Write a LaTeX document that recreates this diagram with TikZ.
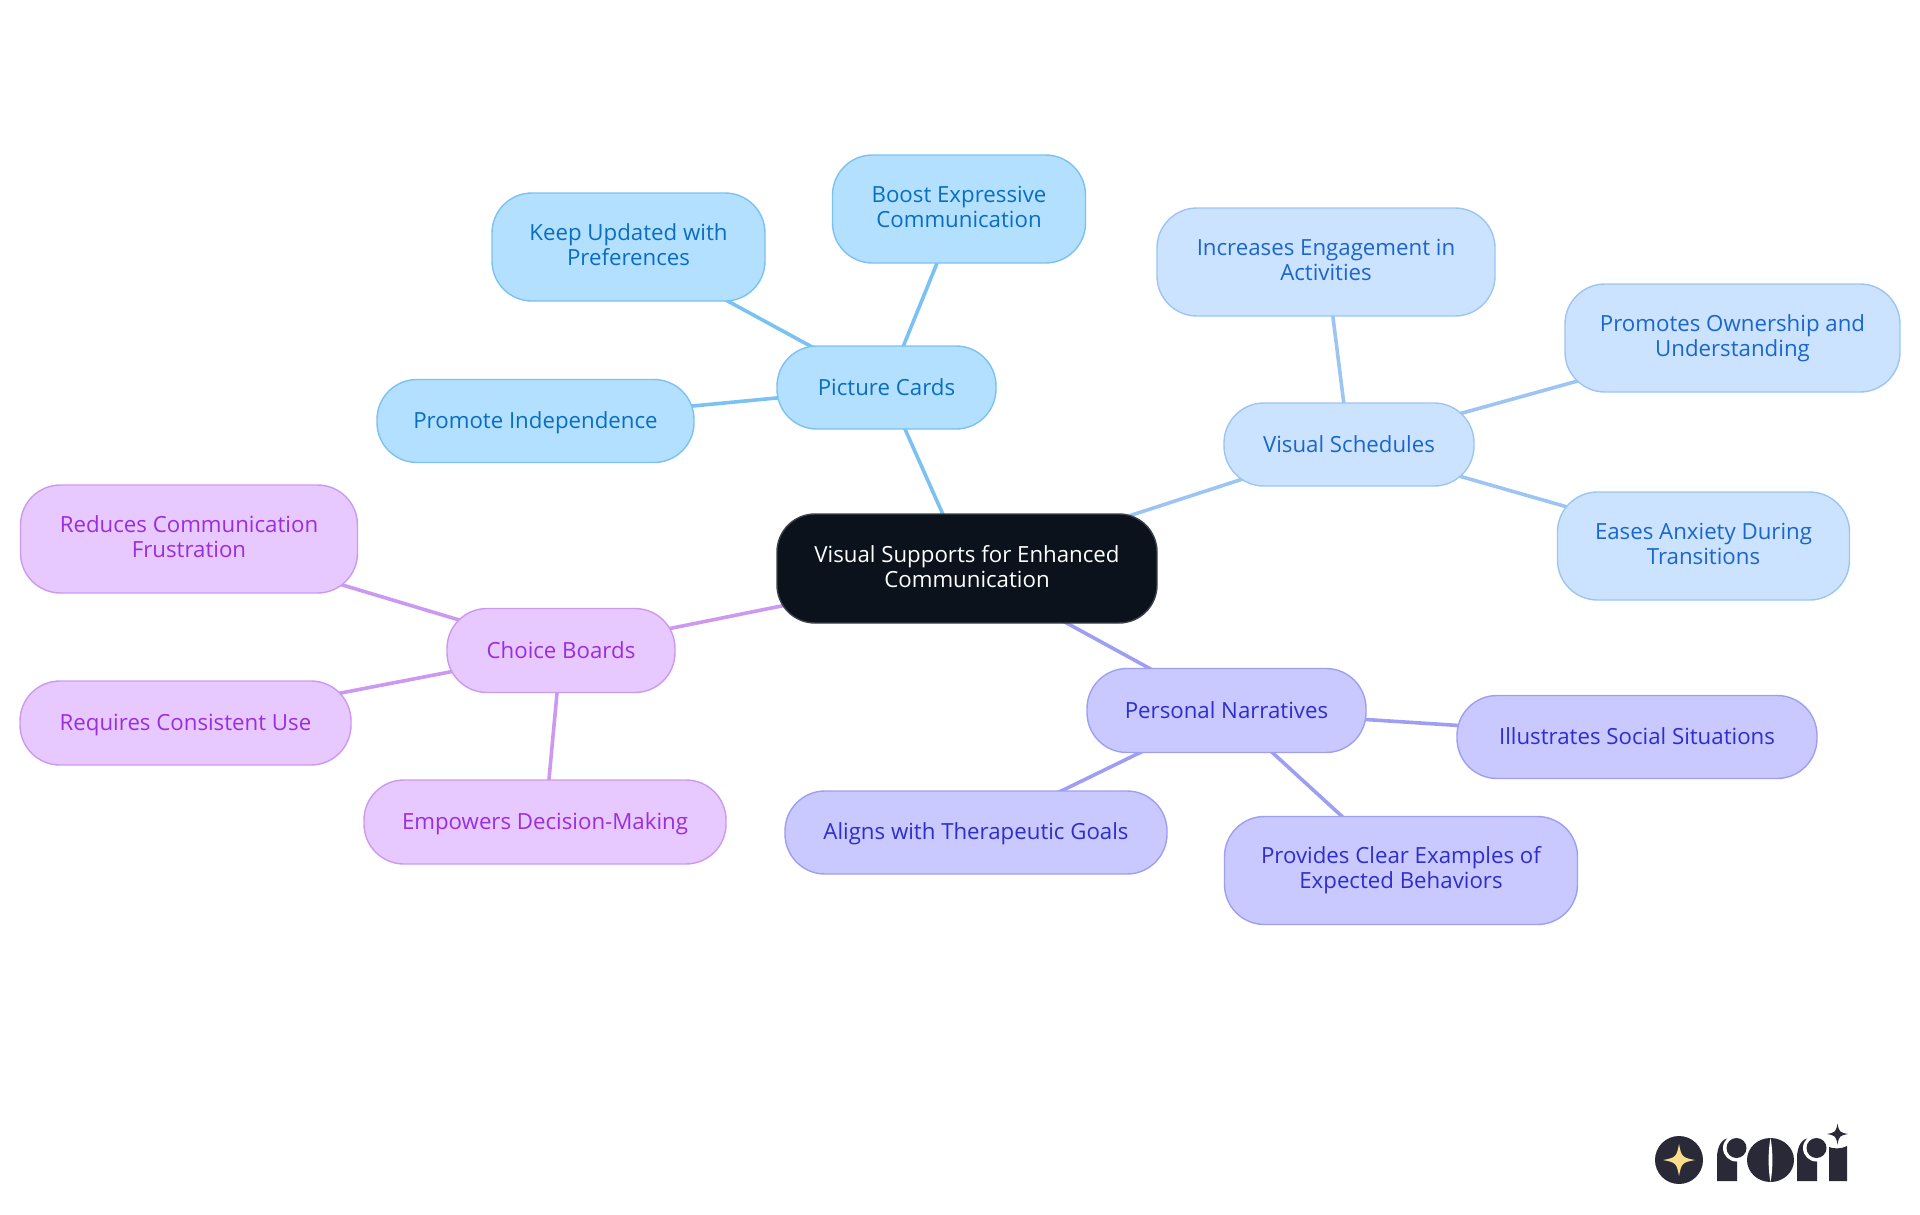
\documentclass[tikz,border=0pt]{standalone}
\usepackage{fontspec}
\setmainfont{Open Sans}
\usetikzlibrary{backgrounds}
\definecolor{rootfill}{HTML}{0B121B}
\definecolor{cardfill}{HTML}{B3E0FF}
\definecolor{cardline}{HTML}{7BC1F2}
\definecolor{cardtext}{HTML}{0A6EC0}
\definecolor{schedfill}{HTML}{CCE3FF}
\definecolor{schedline}{HTML}{9CC5F3}
\definecolor{schedtext}{HTML}{1A66CC}
\definecolor{storyfill}{HTML}{C9C9FF}
\definecolor{storyline}{HTML}{9E9EF2}
\definecolor{storytext}{HTML}{2E2ECC}
\definecolor{choicefill}{HTML}{E8C9FF}
\definecolor{choiceline}{HTML}{CC99F0}
\definecolor{choicetext}{HTML}{9A2EDD}
\definecolor{logodark}{HTML}{2A2937}
\definecolor{logostar}{HTML}{F9DC8C}
\newcommand{\fourstar}[4]{\fill[#4] (#1-#3,#2) .. controls (#1-0.2*#3,#2-0.15*#3) and (#1-0.15*#3,#2-0.2*#3) .. (#1,#2-#3) .. controls (#1+0.15*#3,#2-0.2*#3) and (#1+0.2*#3,#2-0.15*#3) .. (#1+#3,#2) .. controls (#1+0.2*#3,#2+0.15*#3) and (#1+0.15*#3,#2+0.2*#3) .. (#1,#2+#3) .. controls (#1-0.15*#3,#2+0.2*#3) and (#1-0.2*#3,#2+0.15*#3) .. (#1-#3,#2) -- cycle;}
\newcommand{\logor}[1]{\fill[logodark] (#1,1181) -- (#1,1158) .. controls (#1,1146) and (#1+5,1138) .. (#1+13,1138) -- (#1+20,1150) -- (#1+20,1181) -- cycle;
  \fill[white] (#1+19.5,1148) circle (13.5);
  \fill[logodark] (#1+19.5,1148) circle (10);}
\begin{document}
\begin{tikzpicture}[x=1pt,y=-1pt,
    bubble/.style={rounded corners=40pt,line width=1.4pt,inner sep=0pt,align=center,font=\fontsize{22.25}{25}\selectfont,execute at begin node=\rule{0pt}{20.2pt},execute at end node=\rule[-4.8pt]{0pt}{4.8pt}},
    rootnode/.style={bubble,fill=rootfill,draw=rootfill!80!white,text=white,rounded corners=38pt},
    cardnode/.style={bubble,fill=cardfill,draw=cardline,text=cardtext},
    schednode/.style={bubble,fill=schedfill,draw=schedline,text=schedtext},
    storynode/.style={bubble,fill=storyfill,draw=storyline,text=storytext},
    choicenode/.style={bubble,fill=choicefill,draw=choiceline,text=choicetext},
    link/.style={line width=3.6pt}]
  \useasboundingbox (0,0) rectangle (1920,1215);

  \node[rootnode,minimum width=380pt,minimum height=109pt] (root) at (967,568.5) {Visual Supports for Enhanced\\Communication};

  \node[cardnode,minimum width=219pt,minimum height=83pt] (cards) at (886.5,387.5) {Picture Cards};
  \node[cardnode,minimum width=253pt,minimum height=108pt] (boost) at (959,209) {Boost Expressive\\Communication};
  \node[cardnode,minimum width=273pt,minimum height=108pt] (keep) at (628.5,247) {Keep Updated with\\Preferences};
  \node[cardnode,minimum width=317pt,minimum height=83pt] (indep) at (535.5,421) {Promote Independence};

  \node[schednode,minimum width=250pt,minimum height=83pt] (sched) at (1349,444.5) {Visual Schedules};
  \node[schednode,minimum width=338pt,minimum height=108pt] (engage) at (1326,262) {Increases Engagement in\\Activities};
  \node[schednode,minimum width=335pt,minimum height=108pt] (owner) at (1732.5,338) {Promotes Ownership and\\Understanding};
  \node[schednode,minimum width=292pt,minimum height=108pt] (eases) at (1703.5,546) {Eases Anxiety During\\Transitions};

  \node[storynode,minimum width=279pt,minimum height=84pt] (story) at (1226.5,710.5) {Personal Narratives};
  \node[storynode,minimum width=360pt,minimum height=83pt] (social) at (1637,737) {Illustrates Social Situations};
  \node[storynode,minimum width=382pt,minimum height=83pt] (goals) at (976,832.5) {Aligns with Therapeutic Goals};
  \node[storynode,minimum width=353pt,minimum height=108pt] (examples) at (1401,870.5) {Provides Clear Examples of\\Expected Behaviors};

  \node[choicenode,minimum width=228pt,minimum height=84pt] (choice) at (561,650.5) {Choice Boards};
  \node[choicenode,minimum width=337pt,minimum height=108pt] (frustr) at (189,539) {Reduces Communication\\Frustration};
  \node[choicenode,minimum width=331pt,minimum height=84pt] (consist) at (185.5,723) {Requires Consistent Use};
  \node[choicenode,minimum width=362pt,minimum height=84pt] (empower) at (545,822) {Empowers Decision-Making};

  \begin{scope}[on background layer]
    \draw[link,cardline] (root.center) -- (cards.center);
    \draw[link,cardline] (cards.center) -- (boost.center);
    \draw[link,cardline] (cards.center) -- (keep.center);
    \draw[link,cardline] (cards.center) -- (indep.center);
    \draw[link,schedline] (root.center) -- (sched.center);
    \draw[link,schedline] (sched.center) -- (engage.center);
    \draw[link,schedline] (sched.center) -- (owner.center);
    \draw[link,schedline] (sched.center) -- (eases.center);
    \draw[link,storyline] (root.center) -- (story.center);
    \draw[link,storyline] (story.center) -- (social.center);
    \draw[link,storyline] (story.center) -- (goals.center);
    \draw[link,storyline] (story.center) -- (examples.center);
    \draw[link,choiceline] (root.center) -- (choice.center);
    \draw[link,choiceline] (choice.center) -- (frustr.center);
    \draw[link,choiceline] (choice.center) -- (consist.center);
    \draw[link,choiceline] (choice.center) -- (empower.center);
  \end{scope}

  \fill[logodark] (1679,1160) circle (24);
  \fourstar{1679}{1160}{16}{logostar}
  \logor{1717}
  \fill[logodark] (1770.5,1160) ellipse (23.5 and 22);
  \fill[white] (1770.5,1138) .. controls (1768,1150) and (1768,1170) .. (1770.5,1182) .. controls (1773,1170) and (1773,1150) .. (1770.5,1138) -- cycle;
  \logor{1797}
  \fill[logodark] (1829,1181) -- (1829,1147) .. controls (1833,1149) and (1842,1149) .. (1847,1146) -- (1847,1181) -- cycle;
  \fourstar{1837.5}{1134}{10.5}{logodark}
\end{tikzpicture}
\end{document}
